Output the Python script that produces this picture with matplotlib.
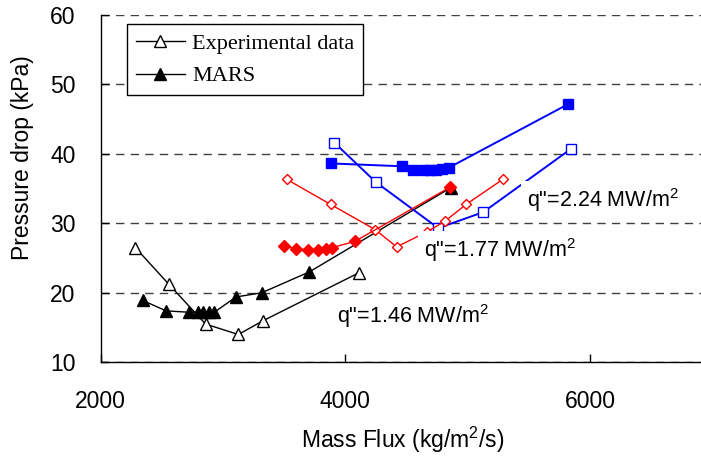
import matplotlib
matplotlib.use("Agg")
import matplotlib.pyplot as plt

plt.rcParams['font.family'] = ['Liberation Sans', 'DejaVu Sans']
plt.rcParams['mathtext.fontset'] = 'custom'
plt.rcParams['mathtext.rm'] = 'Liberation Sans'
plt.rcParams['mathtext.default'] = 'regular'

# q"=1.46 MW/m2
exp146_x = [2283, 2558, 2857, 3125, 3329, 4113]
exp146_y = [26.5, 21.2, 15.5, 14.0, 16.0, 22.9]
mars146_x = [2343, 2534, 2720, 2795, 2840, 2882, 2928, 3106, 3316, 3705, 4860]
mars146_y = [18.9, 17.4, 17.2, 17.2, 17.2, 17.2, 17.2, 19.4, 20.0, 23.0, 35.1]

# q"=1.77 MW/m2
exp177_x = [3522, 3880, 4242, 4419, 4670, 4814, 4986, 5285]
exp177_y = [36.3, 32.7, 29.1, 26.6, 28.8, 30.3, 32.7, 36.3]
mars177_x = [3501, 3594, 3697, 3779, 3842, 3893, 4078, 4856]
mars177_y = [26.8, 26.3, 26.2, 26.2, 26.3, 26.5, 27.4, 35.2]

# q"=2.24 MW/m2
exp224_x = [3909, 4250, 4759, 5127, 5844]
exp224_y = [41.6, 35.9, 29.3, 31.6, 40.7]
mars224_x = [3884, 4460, 4555, 4642, 4691, 4740, 4789, 4846, 5817]
mars224_y = [38.6, 38.2, 37.7, 37.7, 37.7, 37.7, 37.8, 38.0, 47.1]

labels = ['q"=1.46 MW/m$^2$', 'q"=1.77 MW/m$^2$', 'q"=2.24 MW/m$^2$']
label_x = [3934, 4643, 5484]
label_y = [15.6, 25.1, 32.3]

fig = plt.figure(figsize=(7.01, 4.62), dpi=100)
ax = fig.add_axes([0.1437, 0.2158, 0.8726, 0.7524])

ax.plot(exp146_x, exp146_y, color='black', lw=1.0, marker='^', ms=8,
        mfc='white', mec='black', mew=1.0, label='Experimental data', zorder=3)
ax.plot(mars146_x, mars146_y, color='black', lw=1.0, marker='^', ms=8,
        mfc='black', mec='black', label='MARS', zorder=3)

ax.plot(exp224_x, exp224_y, color='#0000ff', lw=1.4, marker='s', ms=6.5,
        mfc='white', mec='#0000ff', mew=1.0, zorder=3)
ax.plot(mars224_x, mars224_y, color='#0000ff', lw=1.4, marker='s', ms=6.5,
        mfc='#0000ff', mec='#0000ff', zorder=3)

ax.plot(exp177_x, exp177_y, color='#ff0000', lw=1.0, marker='D', ms=5.5,
        mfc='white', mec='#ff0000', mew=1.0, zorder=4)
ax.plot(mars177_x, mars177_y, color='#ff0000', lw=1.0, marker='D', ms=6,
        mfc='#ff0000', mec='#ff0000', zorder=4)

for txt, tx, ty in zip(labels, label_x, label_y):
    ax.text(tx, ty, txt, fontsize=15.5, va='baseline', ha='left', zorder=6,
            bbox=dict(facecolor='white', edgecolor='none', pad=4))

ax.set_xlim(2000, 7000)
ax.set_ylim(10, 60)
ax.set_xticks([2000, 4000, 6000])
ax.set_yticks([10, 20, 30, 40, 50, 60])
ax.tick_params(direction='in', length=6, width=1, labelsize=16.5, pad=18)
ax.tick_params(axis='x', pad=20)

ax.grid(axis='y', color='#404040', lw=1.0, linestyle=(0, (6, 4.5)))
ax.set_axisbelow(True)
for s in ['top', 'right']:
    ax.spines[s].set_visible(False)
for s in ['left', 'bottom']:
    ax.spines[s].set_linewidth(1.0)

ax.set_xlabel('Mass Flux (kg/m$^2$/s)', fontsize=16.5)
ax.xaxis.label.set_verticalalignment('center')
ax.xaxis.set_label_coords(0.494, -0.2235)
ax.set_ylabel('Pressure drop (kPa)', fontsize=16.5)
ax.yaxis.label.set_verticalalignment('center')
ax.yaxis.set_label_coords(-0.1287, 0.588)

leg = ax.legend(loc='upper left', bbox_to_anchor=(0.0425, 0.973),
                borderaxespad=0, fancybox=False, framealpha=1,
                edgecolor='black', handlelength=2.2, handletextpad=0.35,
                borderpad=0.4, labelspacing=0.55,
                prop={'family': 'Liberation Serif', 'size': 16})
leg.get_frame().set_linewidth(1.0)

fig.savefig('out.png', dpi=100)
